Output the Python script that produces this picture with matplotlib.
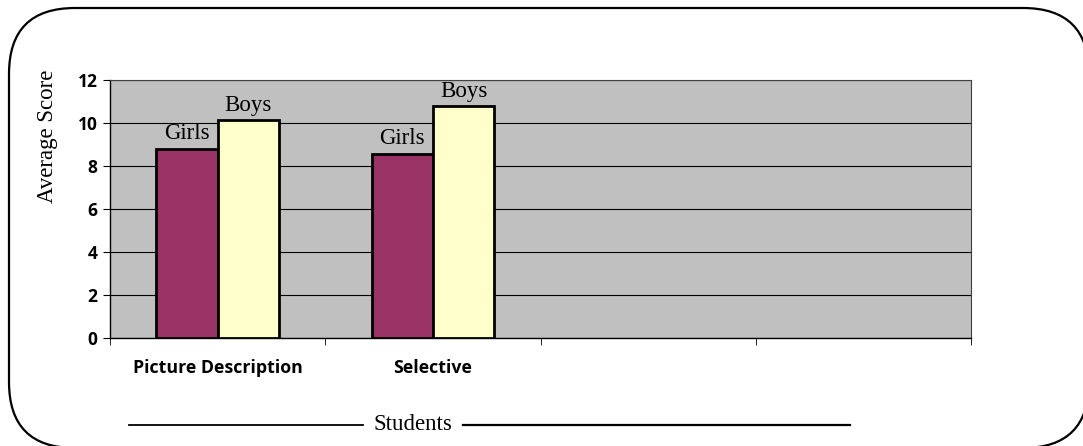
import numpy as np
import matplotlib.pyplot as plt
from matplotlib.patches import FancyBboxPatch
from matplotlib.lines import Line2D

# data
categories = ["Picture Description", "Selective", "", ""]
girls = [8.8, 8.55]
boys = [10.15, 10.8]
series_names = ["Girls", "Boys"]
yticks = [0, 2, 4, 6, 8, 10, 12]

fig = plt.figure(figsize=(10.83, 4.46), dpi=100)
fig.patch.set_facecolor("white")

# rounded frame around the whole chart (runs off the right and bottom edges)
# nearly transparent face so Agg does not clip the stroke onto the canvas border
frame = FancyBboxPatch((0.09, -0.02), 10.80, 4.40,
                       boxstyle="round,pad=0,rounding_size=0.66",
                       transform=fig.dpi_scale_trans,
                       facecolor=(1, 1, 1, 0.003),
                       edgecolor="black", linewidth=1.6, zorder=-1)
fig.patches.append(frame)

ax = fig.add_axes([110/1083, 108/446, 861/1083, 258/446])
ax.set_facecolor("#C0C0C0")

n = len(categories)
w = 0.285
x_g = np.arange(len(girls))
ax.bar(x_g - w/2, girls, width=w, color="#993366", edgecolor="black", linewidth=2, zorder=3)
ax.bar(x_g + w/2, boys, width=w, color="#FFFFCC", edgecolor="black", linewidth=2, zorder=3)

serif = "Liberation Serif"
for i in range(len(girls)):
    ax.annotate(series_names[0], (x_g[i] - w/2, girls[i]), xytext=(0, 7),
                textcoords="offset points", ha="center", va="baseline",
                fontsize=16.5, family=serif, zorder=4)
    ax.annotate(series_names[1], (x_g[i] + w/2, boys[i]), xytext=(0, 6),
                textcoords="offset points", ha="center", va="baseline",
                fontsize=16.5, family=serif, zorder=4)

ax.set_xlim(-0.5, n - 0.5)
ax.set_ylim(0, 12)
ax.set_yticks(yticks)
ax.set_yticklabels([str(v) for v in yticks], fontsize=12.5, fontweight="bold", family="Open Sans")
ax.set_xticks(np.arange(n))
ax.set_xticklabels(categories, fontsize=12.8, fontweight="bold", family="Open Sans")
ax.set_xticks(np.arange(n + 1) - 0.5, minor=True)
ax.tick_params(axis="x", which="major", length=0, pad=15)
ax.tick_params(axis="x", which="minor", length=5, direction="out", color="black")
ax.tick_params(axis="y", length=5, direction="out", color="black", pad=4)
ax.yaxis.grid(True, color="black", linewidth=0.8, zorder=1)
ax.set_axisbelow(True)
for s in ["top", "right"]:
    ax.spines[s].set_color("#404040")
    ax.spines[s].set_linewidth(0.8)
for s in ["left", "bottom"]:
    ax.spines[s].set_color("black")
    ax.spines[s].set_linewidth(1.0)

# y axis title sits high, not centred on the axis
fig.text(48/1083, 1 - 136/446, "Average Score", rotation=90, ha="center", va="center",
         fontsize=16.5, family=serif)

# "Students" title with rules on both sides
fig.text(413/1083, 1 - 425/446, "Students", ha="center", va="center",
         fontsize=16.5, family=serif)
fig.lines.append(Line2D([129/1083, 363/1083], [1 - 425/446] * 2,
                        transform=fig.transFigure, color="black", linewidth=1.3))
fig.lines.append(Line2D([463/1083, 850/1083], [1 - 425/446] * 2,
                        transform=fig.transFigure, color="black", linewidth=1.6))

fig.savefig("out.png", dpi=100)
